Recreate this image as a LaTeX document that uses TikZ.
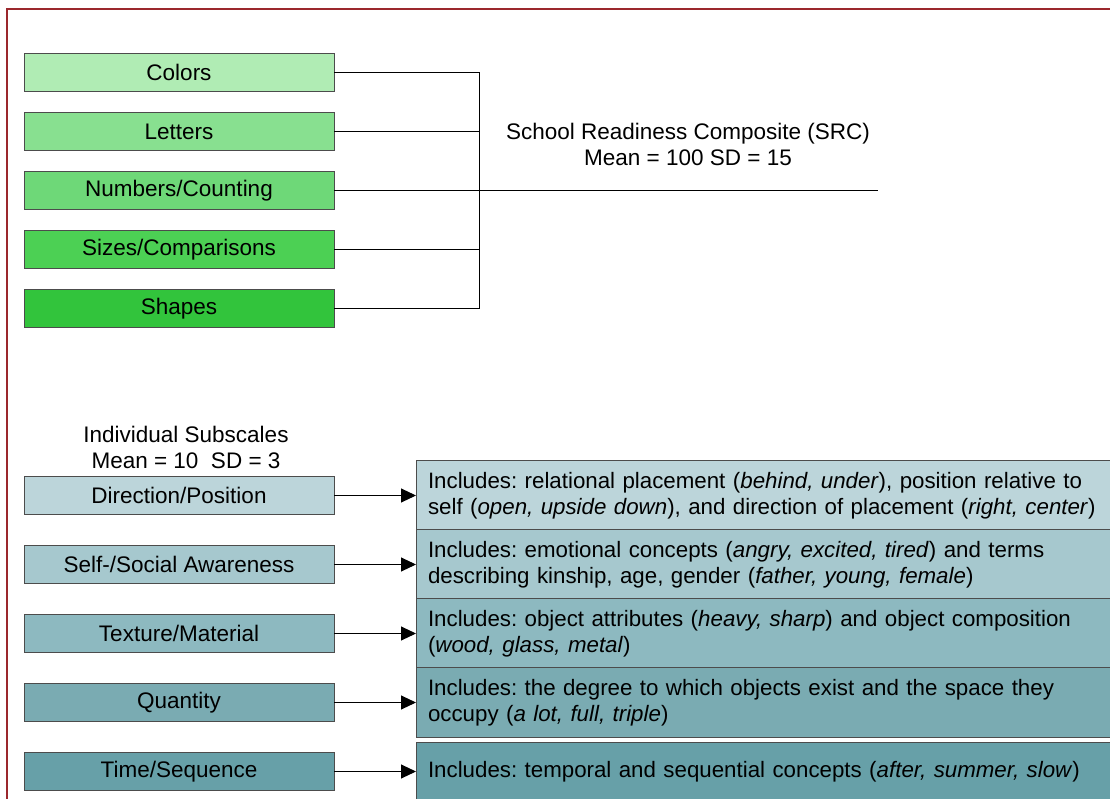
\documentclass[tikz,border=0pt]{standalone}
\usepackage{fontspec}
\setmainfont{Liberation Sans}
\usetikzlibrary{arrows.meta, positioning}
\definecolor{frameRed}{RGB}{155,40,45}
\definecolor{gOne}{RGB}{176,236,180}
\definecolor{gTwo}{RGB}{136,224,144}
\definecolor{gThree}{RGB}{110,216,120}
\definecolor{gFour}{RGB}{76,208,84}
\definecolor{gFive}{RGB}{50,196,60}
\definecolor{bOne}{RGB}{188,213,218}
\definecolor{bTwo}{RGB}{166,200,206}
\definecolor{bThree}{RGB}{141,185,192}
\definecolor{bFour}{RGB}{122,171,178}
\definecolor{bFive}{RGB}{103,160,168}
\frenchspacing

\begin{document}
\begin{tikzpicture}[x=1pt, y=-1pt,
    testbox/.style = {draw=black!70, line width=1pt, outer sep=0pt, minimum width=310pt, minimum height=38pt, inner sep=0pt, font=\fontsize{22.5}{26}\selectfont},
    info/.style = {draw=black!70, line width=1pt, outer sep=0pt, minimum height=58pt, text width=696pt, inner sep=12pt, align=left, font=\fontsize{22.3}{26}\selectfont},
    head/.style = {align=center, font=\fontsize{22.5}{26}\selectfont},
    link/.style = {black, line width=1pt},
    ->, >={Triangle[length=15pt, width=14pt]}]
    \useasboundingbox (0,0) rectangle (1110,799);
    \clip (0,0) rectangle (1110,799);
    \draw[-, frameRed, line width=2pt] (1112,9) -- (7,9) -- (7,801); % frame
    % composite subtests
    \node[testbox, fill=gOne] (colors) at (179,72.5) {Colors};
    \node[testbox, fill=gTwo, below=21pt of colors] (letters) {Letters};
    \node[testbox, fill=gThree, below=21pt of letters] (numbers) {Numbers/Counting};
    \node[testbox, fill=gFour, below=21pt of numbers] (sizes) {Sizes/Comparisons};
    \node[testbox, fill=gFive, below=21pt of sizes] (shapes) {Shapes};
    \coordinate (bar) at (479,190.5);
    \coordinate (srcend) at (878,190.5);
    \draw[-, link] (colors.east) -| (bar) |- (shapes.east);
    \draw[-, link] (letters.east) -| (bar);
    \draw[-, link] (sizes.east) -| (bar);
    \draw[-, link] (numbers.east) -- (srcend);
    \node[head] (src) at (688,144) {School Readiness Composite (SRC)\\Mean = 100 SD = 15};
    % individual subscales
    \node[head] (subs) at (186,447) {Individual Subscales\\Mean = 10\ \ SD = 3};
    \node[testbox, fill=bOne] (dir) at (179,495.5) {Direction/Position};
    \node[testbox, fill=bTwo, below=31pt of dir] (self) {Self-/Social Awareness};
    \node[testbox, fill=bThree, below=31pt of self] (tex) {Texture/Material};
    \node[testbox, fill=bFour, below=31pt of tex] (qty) {Quantity};
    \node[testbox, fill=bFive, below=31pt of qty] (time) {Time/Sequence};
    \node[info, fill=bOne, right=82pt of dir.east, anchor=west] (dirinfo) {Includes: relational placement (\textit{behind, under}), position relative to\\self (\textit{open, upside down}), and direction of placement (\textit{right, center})};
    \node[info, fill=bTwo, right=82pt of self.east, anchor=west] (selfinfo) {Includes: emotional concepts (\textit{angry, excited, tired}) and terms\\describing kinship, age, gender (\textit{father, young, female})};
    \node[info, fill=bThree, right=82pt of tex.east, anchor=west] (texinfo) {Includes: object attributes (\textit{heavy, sharp}) and object composition\\(\textit{wood, glass, metal})};
    \node[info, fill=bFour, right=82pt of qty.east, anchor=west] (qtyinfo) {Includes: the degree to which objects exist and the space they\\occupy (\textit{a lot, full, triple})};
    \node[info, fill=bFive, right=82pt of time.east, anchor=west] (timeinfo) {Includes: temporal and sequential concepts (\textit{after, summer, slow})};
    \draw[link] (dir) -- (dirinfo);
    \draw[link] (self) -- (selfinfo);
    \draw[link] (tex) -- (texinfo);
    \draw[link] (qty) -- (qtyinfo);
    \draw[link] (time) -- (timeinfo);
\end{tikzpicture}
\end{document}
